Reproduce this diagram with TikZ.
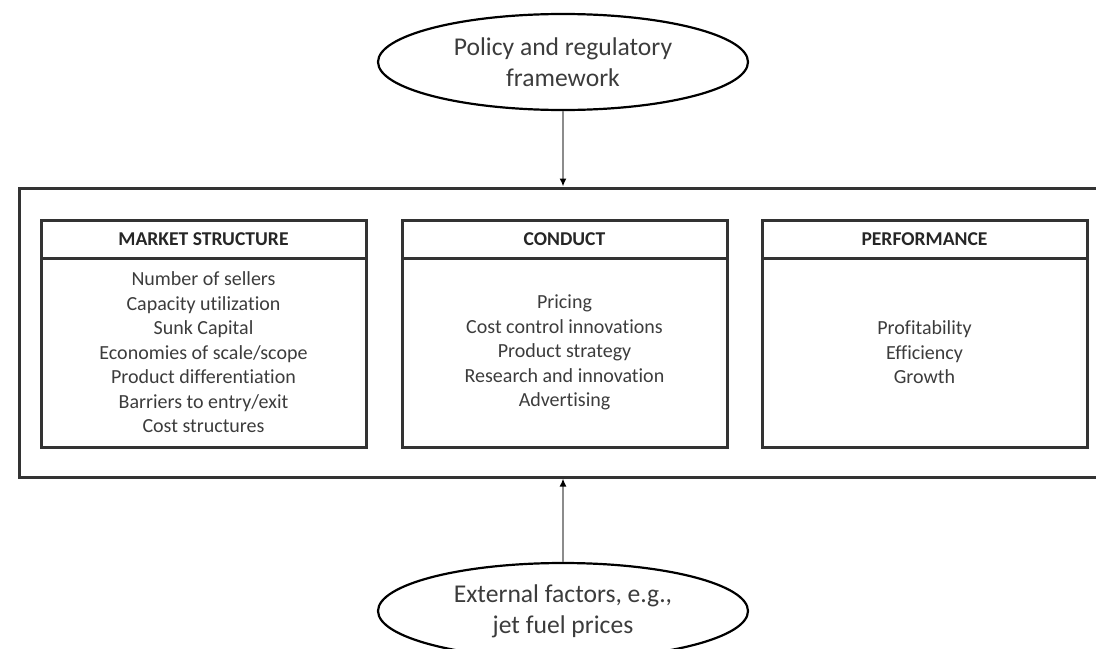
\documentclass[tikz,border=0pt]{standalone}
\usepackage{fontspec}
\setmainfont{Carlito}[RawFeature={-liga;-calt;-dlig;-clig}]
\usetikzlibrary{positioning,shapes.geometric,arrows.meta}
\definecolor{scpline}{HTML}{333333}
\definecolor{scparrow}{HTML}{8C8C8C}
\definecolor{scptext}{HTML}{3C3C3C}

\tikzset{
  head/.style={draw=scpline, line width=1.5pt, minimum width=162.5pt, minimum height=19pt,
    inner sep=0pt, outer sep=0pt, font=\bfseries\fontsize{9.8}{11}\selectfont, text=black!85},
  body/.style={draw=scpline, line width=1.5pt, minimum width=162.5pt, minimum height=94.5pt,
    outer sep=0pt, align=center, font=\fontsize{10}{12.25}\selectfont, text=scptext},
  oval/.style={ellipse, draw=black, line width=1.1pt, minimum width=185pt, minimum height=48pt,
    inner sep=0pt, align=center, font=\fontsize{12.8}{15.5}\selectfont, text=scptext},
  link/.style={draw=scparrow, line width=1.3pt, -{Latex[length=4pt,width=3.5pt,color=black]}}
}

\begin{document}
\begin{tikzpicture}[x=0.5pt, y=-0.5pt]
\useasboundingbox (0,0) rectangle (1096,648);

% outer frame (runs off the right edge)
\node[draw=scpline, line width=1.5pt, minimum width=548pt, minimum height=144.5pt] (frame) at (567,332.5) {};

% the three blocks
\node[head] (mshead) at (203.5,239) {MARKET STRUCTURE};
\node[body, below=0pt of mshead] (msbody) {Number of sellers\\ Capacity utilization\\ Sunk Capital\\
  Economies of scale/scope\\ Product differentiation\\ Barriers to entry/exit\\ Cost structures};

\node[head, right=18pt of mshead] (cdhead) {CONDUCT};
\node[body, below=0pt of cdhead] (cdbody) {Pricing\\ Cost control innovations\\ Product strategy\\
  Research and innovation\\ Advertising};

\node[head, right=17.5pt of cdhead] (pfhead) {PERFORMANCE};
\node[body, below=0pt of pfhead] (pfbody) {Profitability\\ Efficiency\\ Growth};

% outside influences
\node[oval] (policy) at (563,62) {Policy and regulatory\\ framework};
\node[oval] (external) at (563,611) {External factors, e.g.,\\ jet fuel prices};

\draw[link] (policy) -- (policy |- frame.north);
\draw[link] (external) -- (external |- frame.south);
\end{tikzpicture}
\end{document}
